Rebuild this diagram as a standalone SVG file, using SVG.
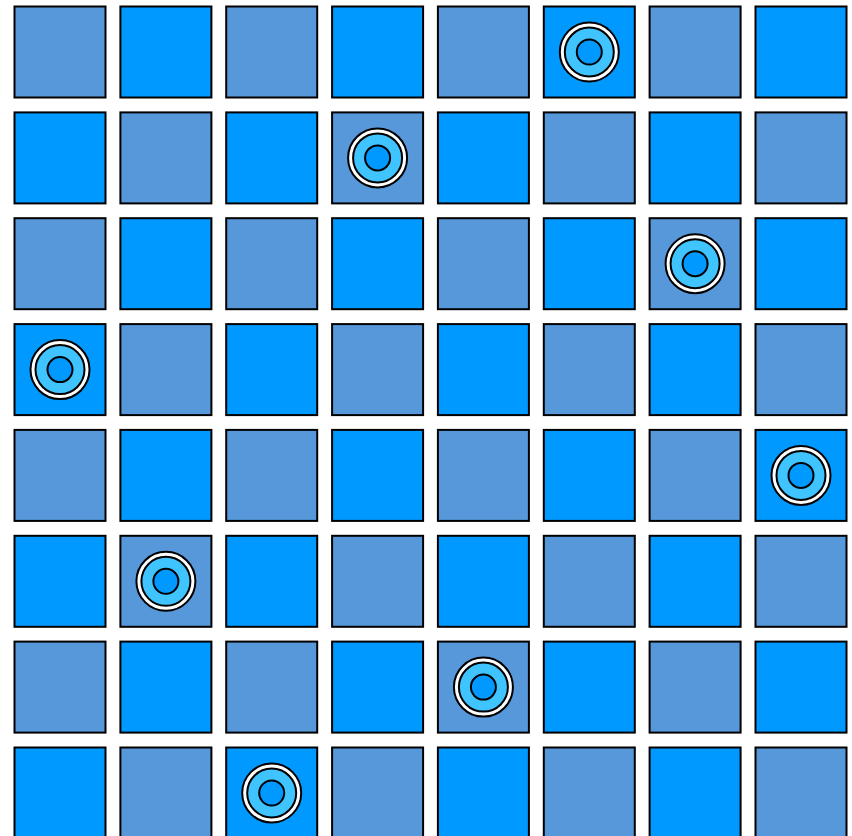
<svg xmlns="http://www.w3.org/2000/svg" width="852" height="836" viewBox="0 0 852 836">
<style>
.a{fill:#5698DA;stroke:#000;stroke-width:2}
.b{fill:#0099FF;stroke:#000;stroke-width:2}
.q1{fill:#fff;stroke:#000;stroke-width:2}
.q2{fill:#40C4FF;stroke:#000;stroke-width:2}
.q3{fill:#0099FF;stroke:#000;stroke-width:2}
</style>
<defs>
<g id="queen"><circle class="q1" r="29.5"/><circle class="q2" r="24.5"/><circle class="q3" r="12.5"/></g>
</defs>
<rect width="852" height="836" fill="#fff"/>
<g id="board">
<g id="r0"><rect class="a" x="14.5" y="6.5" width="91" height="91"/><rect class="b" x="120.4" y="6.5" width="91" height="91"/><rect class="a" x="226.2" y="6.5" width="91" height="91"/><rect class="b" x="332.1" y="6.5" width="91" height="91"/><rect class="a" x="437.9" y="6.5" width="91" height="91"/><rect class="b" x="543.8" y="6.5" width="91" height="91"/><rect class="a" x="649.6" y="6.5" width="91" height="91"/><rect class="b" x="755.5" y="6.5" width="91" height="91"/></g>
<g id="r1"><rect class="b" x="14.5" y="112.4" width="91" height="91"/><rect class="a" x="120.4" y="112.4" width="91" height="91"/><rect class="b" x="226.2" y="112.4" width="91" height="91"/><rect class="a" x="332.1" y="112.4" width="91" height="91"/><rect class="b" x="437.9" y="112.4" width="91" height="91"/><rect class="a" x="543.8" y="112.4" width="91" height="91"/><rect class="b" x="649.6" y="112.4" width="91" height="91"/><rect class="a" x="755.5" y="112.4" width="91" height="91"/></g>
<g id="r2"><rect class="a" x="14.5" y="218.2" width="91" height="91"/><rect class="b" x="120.4" y="218.2" width="91" height="91"/><rect class="a" x="226.2" y="218.2" width="91" height="91"/><rect class="b" x="332.1" y="218.2" width="91" height="91"/><rect class="a" x="437.9" y="218.2" width="91" height="91"/><rect class="b" x="543.8" y="218.2" width="91" height="91"/><rect class="a" x="649.6" y="218.2" width="91" height="91"/><rect class="b" x="755.5" y="218.2" width="91" height="91"/></g>
<g id="r3"><rect class="b" x="14.5" y="324.1" width="91" height="91"/><rect class="a" x="120.4" y="324.1" width="91" height="91"/><rect class="b" x="226.2" y="324.1" width="91" height="91"/><rect class="a" x="332.1" y="324.1" width="91" height="91"/><rect class="b" x="437.9" y="324.1" width="91" height="91"/><rect class="a" x="543.8" y="324.1" width="91" height="91"/><rect class="b" x="649.6" y="324.1" width="91" height="91"/><rect class="a" x="755.5" y="324.1" width="91" height="91"/></g>
<g id="r4"><rect class="a" x="14.5" y="429.9" width="91" height="91"/><rect class="b" x="120.4" y="429.9" width="91" height="91"/><rect class="a" x="226.2" y="429.9" width="91" height="91"/><rect class="b" x="332.1" y="429.9" width="91" height="91"/><rect class="a" x="437.9" y="429.9" width="91" height="91"/><rect class="b" x="543.8" y="429.9" width="91" height="91"/><rect class="a" x="649.6" y="429.9" width="91" height="91"/><rect class="b" x="755.5" y="429.9" width="91" height="91"/></g>
<g id="r5"><rect class="b" x="14.5" y="535.8" width="91" height="91"/><rect class="a" x="120.4" y="535.8" width="91" height="91"/><rect class="b" x="226.2" y="535.8" width="91" height="91"/><rect class="a" x="332.1" y="535.8" width="91" height="91"/><rect class="b" x="437.9" y="535.8" width="91" height="91"/><rect class="a" x="543.8" y="535.8" width="91" height="91"/><rect class="b" x="649.6" y="535.8" width="91" height="91"/><rect class="a" x="755.5" y="535.8" width="91" height="91"/></g>
<g id="r6"><rect class="a" x="14.5" y="641.6" width="91" height="91"/><rect class="b" x="120.4" y="641.6" width="91" height="91"/><rect class="a" x="226.2" y="641.6" width="91" height="91"/><rect class="b" x="332.1" y="641.6" width="91" height="91"/><rect class="a" x="437.9" y="641.6" width="91" height="91"/><rect class="b" x="543.8" y="641.6" width="91" height="91"/><rect class="a" x="649.6" y="641.6" width="91" height="91"/><rect class="b" x="755.5" y="641.6" width="91" height="91"/></g>
<g id="r7"><rect class="b" x="14.5" y="747.5" width="91" height="91"/><rect class="a" x="120.4" y="747.5" width="91" height="91"/><rect class="b" x="226.2" y="747.5" width="91" height="91"/><rect class="a" x="332.1" y="747.5" width="91" height="91"/><rect class="b" x="437.9" y="747.5" width="91" height="91"/><rect class="a" x="543.8" y="747.5" width="91" height="91"/><rect class="b" x="649.6" y="747.5" width="91" height="91"/><rect class="a" x="755.5" y="747.5" width="91" height="91"/></g>
</g>
<g id="queens">
<use id="q0" href="#queen" x="589.3" y="52"/>
<use id="q1" href="#queen" x="377.6" y="157.9"/>
<use id="q2" href="#queen" x="695.1" y="263.7"/>
<use id="q3" href="#queen" x="60" y="369.6"/>
<use id="q4" href="#queen" x="801" y="475.4"/>
<use id="q5" href="#queen" x="165.9" y="581.3"/>
<use id="q6" href="#queen" x="483.4" y="687.1"/>
<use id="q7" href="#queen" x="271.7" y="793"/>
</g>
</svg>
